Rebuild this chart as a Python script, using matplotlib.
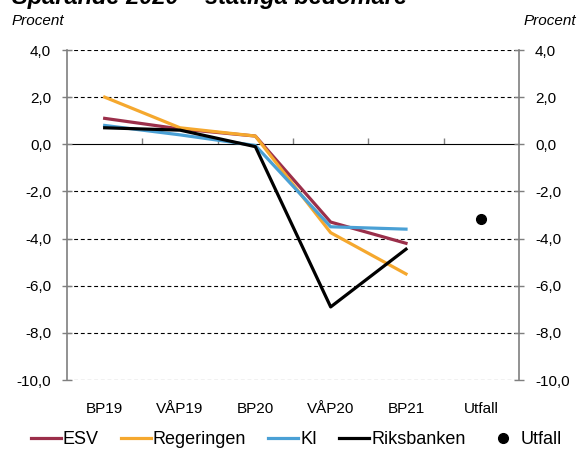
import numpy as np
import matplotlib.pyplot as plt

plt.rcParams['font.family'] = ['Liberation Sans', 'DejaVu Sans']

categories = ["BP19", "VÅP19", "BP20", "VÅP20", "BP21", "Utfall"]

esv = [1.1, 0.65, 0.35, -3.3, -4.2]
regeringen = [2.0, 0.7, 0.35, -3.75, -5.5]
ki = [0.8, 0.4, -0.05, -3.5, -3.6]
riksbanken = [0.7, 0.6, -0.1, -6.9, -4.45]
utfall = -3.15

yticks = [4, 2, 0, -2, -4, -6, -8, -10]

x = np.arange(len(categories))
xf = x[:len(esv)]

fig = plt.figure(figsize=(5.79, 4.57), dpi=100)
ax = fig.add_axes([67 / 579, 1 - 380 / 457, 452 / 579, 330 / 457])

ax.plot(xf, esv, color="#9b2f4a", lw=2.3, label="ESV", zorder=3)
ax.plot(xf, regeringen, color="#f5a82e", lw=2.3, label="Regeringen", zorder=3)
ax.plot(xf, ki, color="#4aa0d5", lw=2.3, label="KI", zorder=3)
ax.plot(xf, riksbanken, color="black", lw=2.3, label="Riksbanken", zorder=4)
ax.plot([x[-1]], [utfall], "o", color="black", ms=7, label="Utfall", zorder=5)

ax.set_xlim(-0.5, len(categories) - 0.5)
ax.set_ylim(-10, 4)

# dashed grid, solid zero line
for v in yticks:
    if v == 0:
        continue
    ax.axhline(v, color="black", lw=0.8, ls=(0, (3.5, 2.5)), zorder=1)

for s in ["top", "bottom"]:
    ax.spines[s].set_visible(False)
for s in ["left", "right"]:
    ax.spines[s].set_color("#7f7f7f")
    ax.spines[s].set_linewidth(1.2)

ax.set_yticks(yticks)
ax.set_yticklabels([f"{v:.1f}".replace(".", ",") for v in yticks])
ax.tick_params(axis="y", which="both", direction="inout", length=7,
               color="#7f7f7f", width=1.0, labelsize=11, pad=8,
               left=True, right=True, labelleft=True, labelright=True)

ax.set_xticks(x)
ax.set_xticklabels(categories)
ax.tick_params(axis="x", length=0, labelsize=11, pad=16)

# zero axis with ticks between categories
sec = ax.secondary_xaxis(10 / 14)
sec.spines["bottom"].set_color("#7f7f7f")
sec.spines["bottom"].set_linewidth(1.2)
sec.set_xticks(np.arange(0.5, len(categories) - 0.5, 1.0))
sec.tick_params(axis="x", direction="out", length=4, color="#7f7f7f",
                width=1.0, labelbottom=False, labeltop=False)

fig.text(12 / 579, 1 - 4 / 457, "Sparande 2020 – statliga bedömare",
         fontsize=17, fontweight="bold", fontstyle="italic", va="baseline")
fig.text(12 / 579, 1 - 25 / 457, "Procent", fontsize=11, fontstyle="italic")
fig.text(576 / 579, 1 - 25 / 457, "Procent", fontsize=11, fontstyle="italic",
         ha="right")

fig.legend(loc="center", bbox_to_anchor=(296 / 579, 1 - 440 / 457), ncol=5,
           frameon=False, fontsize=13, handlelength=1.66, handletextpad=0.12,
           columnspacing=1.22, borderpad=0)

fig.savefig("out.png", dpi=100)
